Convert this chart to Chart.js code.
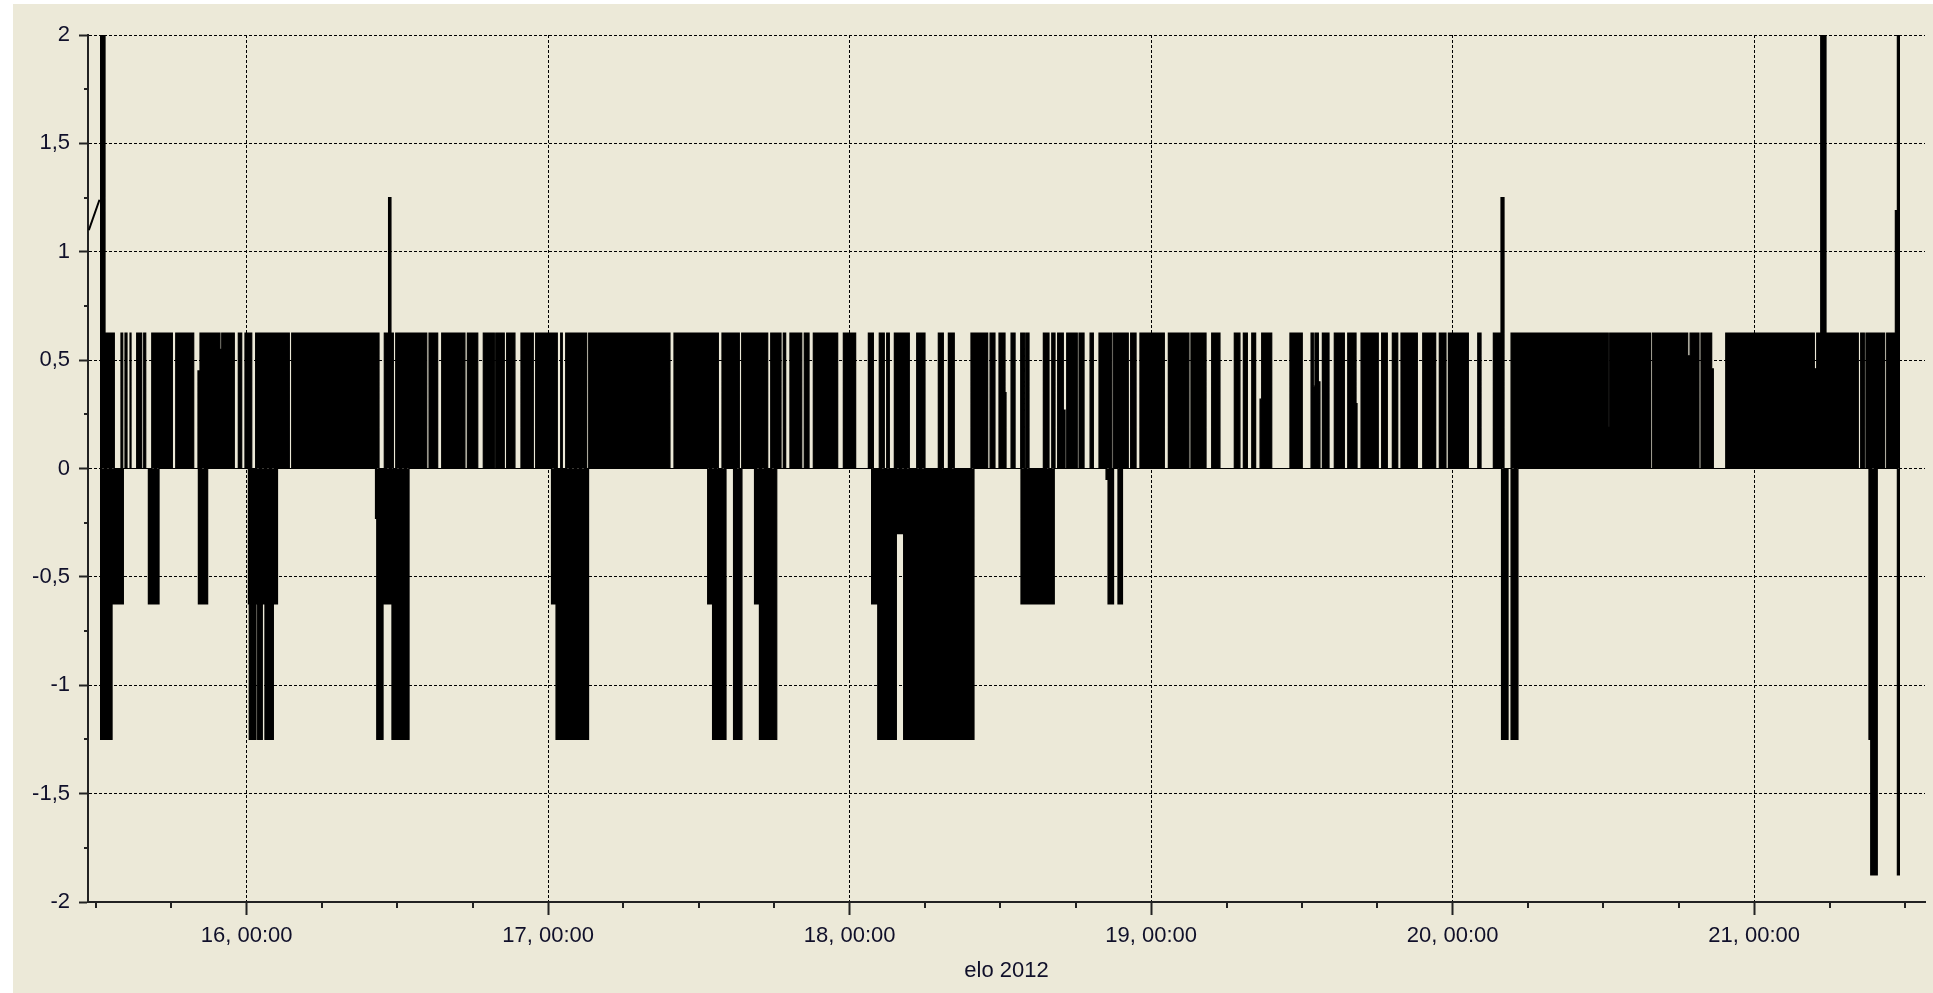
<!DOCTYPE html>
<html>
<head>
<meta charset="utf-8">
<script src="https://cdn.jsdelivr.net/npm/chart.js@4.4.1/dist/chart.umd.min.js"></script>
<style>
  html, body { margin: 0; padding: 0; background: #ffffff; overflow: hidden; }
  canvas { display: block; }
</style>
</head>
<body>
<canvas id="chart" width="1933" height="993"></canvas>
<script>
// Times are hours counted from 15 Aug 2012 00:00.
const axisStart = 11.375;
const axisEnd = 157.6;
const tickHours = [12, 18, 24, 30, 36, 42, 48, 54, 60, 66, 72, 78, 84, 90, 96, 102,
                   108, 114, 120, 126, 132, 138, 144, 150, 156];
const valueTicks = [-2, -1.75, -1.5, -1.25, -1, -0.75, -0.5, -0.25, 0,
                    0.25, 0.5, 0.75, 1, 1.25, 1.5, 1.75, 2];
const axisTitle = 'elo 2012';

// Opening stretch of the record before the first sharp jump.
const leadHours = [11.44, 12.29, 12.33];
const leadValues = [1.10, 1.24, 1.24];

// The signal flips between levels many times per minute; it is kept as the
// band it spans: the highest level reached from each start time onward ...
const upperHours = [
  12.33, 12.73, 13.47, 14.00, 14.14, 14.32, 14.48, 14.72, 14.80, 15.25, 15.65, 15.81, 15.97, 16.45,
  18.09, 18.36, 19.79, 20.13, 20.29, 21.88, 22.02, 23.02, 23.34, 23.61, 23.87, 24.41, 24.72, 27.40,
  27.59, 34.54, 34.96, 35.30, 35.49, 35.68, 35.87, 38.34, 38.52, 39.21, 39.53, 41.38, 41.57, 42.40,
  42.84, 43.72, 43.83, 44.51, 44.70, 45.36, 45.84, 46.82, 47.01, 48.73, 49.00, 49.13, 49.40, 51.07,
  51.23, 57.70, 58.02, 61.55, 61.84, 63.22, 63.41, 65.48, 65.72, 66.54, 66.72, 66.91, 67.25, 68.19,
  68.39, 68.77, 69.11, 71.05, 71.50, 72.48, 73.49, 73.89, 74.36, 74.76, 74.95, 75.16, 75.56, 76.75,
  77.34, 78.00, 79.06, 79.46, 79.86, 80.33, 81.66, 82.99, 83.18, 83.57, 83.89, 84.37, 84.45, 84.85,
  85.17, 85.62, 85.91, 86.02, 86.28, 87.42, 87.87, 88.09, 88.35, 88.56, 89.01, 89.15, 89.28, 90.12,
  90.26, 90.66, 91.14, 91.40, 91.85, 92.86, 92.99, 94.18, 94.37, 94.80, 95.11, 97.05, 97.37, 99.01,
  99.17, 100.37, 100.82, 101.48, 102.62, 103.07, 103.34, 103.66, 104.01, 104.32, 104.67, 104.80, 105.60, 107.05,
  108.03, 108.73, 108.91, 109.04, 109.31, 109.44, 109.63, 110.16, 110.58, 111.38, 111.65, 112.31, 112.39, 112.71,
  114.08, 114.35, 114.80, 115.20, 115.63, 115.89, 117.19, 117.62, 118.65, 118.94, 119.47, 119.66, 121.25, 122.00,
  122.26, 123.24, 123.85, 124.09, 124.65, 132.39, 132.50, 135.74, 135.89, 138.71, 138.90, 139.61, 139.77, 140.62,
  140.75, 141.74, 148.79, 148.98, 149.30, 149.72, 152.29, 152.48, 152.77, 152.90, 154.39, 154.55, 155.24, 155.40
];
const upperValues = [
  2, 0.625, 0, 0.625, 0, 0.625, 0, 0.625, 0, 0.625, 0, 0.625, 0, 0.625,
  0, 0.625, 0, 0.45, 0.625, 0.55, 0.625, 0, 0.625, 0, 0.625, 0, 0.625, 0,
  0.625, 0, 0.625, 1.25, 0.625, 0, 0.625, 0, 0.625, 0, 0.625, 0, 0.625, 0,
  0.625, 0, 0.625, 0, 0.625, 0, 0.625, 0, 0.625, 0, 0.625, 0, 0.625, 0,
  0.625, 0, 0.625, 0, 0.625, 0, 0.625, 0, 0.625, 0, 0.625, 0, 0.625, 0,
  0.625, 0, 0.625, 0, 0.625, 0, 0.625, 0, 0.625, 0, 0.625, 0, 0.625, 0,
  0.625, 0, 0.625, 0, 0.625, 0, 0.625, 0, 0.625, 0, 0.625, 0.35, 0, 0.625,
  0, 0.625, 0, 0.625, 0, 0.625, 0, 0.625, 0, 0.625, 0.27, 0, 0.625, 0,
  0.625, 0, 0.625, 0, 0.625, 0, 0.625, 0, 0.625, 0, 0.625, 0, 0.625, 0,
  0.625, 0, 0.625, 0, 0.625, 0, 0.625, 0, 0.625, 0, 0.32, 0.625, 0, 0.625,
  0, 0.625, 0.38, 0.625, 0.4, 0, 0.625, 0, 0.625, 0, 0.625, 0.3, 0, 0.625,
  0, 0.625, 0, 0.625, 0, 0.625, 0, 0.625, 0, 0.625, 0, 0.625, 0, 0.625,
  0, 0.625, 1.25, 0, 0.625, 0.19, 0.625, 0, 0.625, 0.52, 0.625, 0, 0.625, 0.46,
  0, 0.625, 0.46, 0.625, 2, 0.625, 0, 0.625, 0, 0.625, 0, 0.625, 1.19, 2
];

// ... and the lowest level reached from each start time onward.
const lowerHours = [
  12.33, 13.29, 14.19, 16.18, 17.03, 20.16, 20.90, 24.14, 24.21, 24.75, 24.88, 25.25, 25.46, 26.13,
  26.46, 34.26, 34.36, 34.86, 35.57, 36.93, 48.27, 48.63, 51.22, 60.70, 61.09, 62.16, 62.76, 63.43,
  64.43, 64.82, 66.20, 73.75, 74.24, 75.72, 76.30, 81.90, 85.64, 88.29, 92.41, 92.57, 93.01, 93.36,
  93.72, 123.89, 124.41, 124.65, 125.20, 153.14, 153.28, 153.80, 155.40
];
const lowerValues = [
  -1.25, -0.625, 0, -0.625, 0, -0.625, 0, -0.625, -1.25, -0.625, -1.25, -0.625, -1.25, -0.625,
  0, -0.23, -1.25, -0.625, -1.25, 0, -0.625, -1.25, 0, -0.625, -1.25, 0, -1.25, 0,
  -0.625, -1.25, 0, -0.625, -1.25, -0.3, -1.25, 0, -0.625, 0, -0.05, -0.625, 0, -0.625,
  0, -1.25, 0, -1.25, 0, -1.25, -1.875, 0, -1.875
];
const signalEnd = 155.61;

// Turn "level from this time on" lists into a stepped outline.
function stepOutline(hours, values, end) {
  const pts = [];
  for (let i = 0; i < hours.length; i++) {
    const next = i + 1 < hours.length ? hours[i + 1] : end;
    pts.push({ x: hours[i], y: values[i] });
    pts.push({ x: next, y: values[i] });
  }
  return pts;
}

const ink = '#000000';
const axisInk = '#222222';
const labelInk = '#10102a';
const labelFont = { family: "'Liberation Sans', Arial, sans-serif", size: 22 };

const isDay = v => Math.abs(v % 24) < 1e-9;
const isHalf = v => Math.abs(v % 0.5) < 1e-9;
const dayLabel = v => `${15 + v / 24}, 00:00`;
const valueLabel = v => String(v).replace('.', ',');

// Windows-style beige panel behind the plot.
const backdrop = {
  id: 'backdrop',
  beforeDraw(chart) {
    const { ctx, width, height } = chart;
    ctx.save();
    ctx.fillStyle = '#ffffff';
    ctx.fillRect(0, 0, width, height);
    ctx.fillStyle = '#ECE9D8';
    ctx.fillRect(13, 4, width - 13, height - 4);
    ctx.restore();
  }
};

// Short marks for the unlabeled ticks (every 6 h and every 0.25).
const minorTicks = {
  id: 'minorTicks',
  afterDraw(chart) {
    const { ctx, scales: { x, y } } = chart;
    ctx.save();
    ctx.strokeStyle = axisInk;
    ctx.lineWidth = 2;
    ctx.beginPath();
    x.ticks.forEach(t => {
      if (!isDay(t.value)) {
        const px = Math.round(x.getPixelForValue(t.value));
        ctx.moveTo(px, y.bottom);
        ctx.lineTo(px, y.bottom + 6);
      }
    });
    y.ticks.forEach(t => {
      if (!isHalf(t.value)) {
        const py = Math.round(y.getPixelForValue(t.value));
        ctx.moveTo(x.left - 4, py);
        ctx.lineTo(x.left, py);
      }
    });
    ctx.stroke();
    ctx.restore();
  }
};

new Chart(document.getElementById('chart'), {
  type: 'line',
  data: {
    datasets: [
      {
        data: leadHours.map((h, i) => ({ x: h, y: leadValues[i] })),
        borderColor: ink,
        borderWidth: 2,
        pointRadius: 0,
        fill: false
      },
      {
        data: stepOutline(upperHours, upperValues, signalEnd),
        borderColor: ink,
        backgroundColor: ink,
        borderWidth: 1.2,
        pointRadius: 0,
        fill: 'origin'
      },
      {
        data: stepOutline(lowerHours, lowerValues, signalEnd),
        borderColor: ink,
        backgroundColor: ink,
        borderWidth: 1.2,
        pointRadius: 0,
        fill: 'origin'
      }
    ]
  },
  options: {
    responsive: false,
    animation: false,
    events: [],
    parsing: false,
    layout: { padding: { top: 35, right: 8, left: 0, bottom: 0 } },
    plugins: { legend: { display: false }, tooltip: { enabled: false } },
    scales: {
      x: {
        type: 'linear',
        position: 'bottom',
        min: axisStart,
        max: axisEnd,
        afterBuildTicks: s => { s.ticks = tickHours.map(v => ({ value: v })); },
        afterFit: s => { s.height = 91; },
        ticks: {
          autoSkip: false,
          maxRotation: 0,
          padding: 8,
          color: labelInk,
          font: labelFont,
          callback: v => (isDay(v) ? dayLabel(v) : '')
        },
        grid: {
          color: c => (c.tick && isDay(c.tick.value) ? ink : 'rgba(0,0,0,0)'),
          lineWidth: 1,
          tickLength: 13,
          tickWidth: 2,
          tickColor: c => (c.tick && isDay(c.tick.value) ? axisInk : 'rgba(0,0,0,0)')
        },
        border: { display: true, color: axisInk, width: 2, dash: [3, 2] },
        title: {
          display: true,
          text: axisTitle,
          color: labelInk,
          font: labelFont,
          padding: { top: 0, bottom: 9 }
        }
      },
      y: {
        min: -2,
        max: 2,
        afterBuildTicks: s => { s.ticks = valueTicks.map(v => ({ value: v })); },
        afterFit: s => { s.width = 88; },
        ticks: {
          autoSkip: false,
          padding: 9,
          color: labelInk,
          font: labelFont,
          callback: v => (isHalf(v) ? valueLabel(v) : '')
        },
        grid: {
          color: c => (c.tick && isHalf(c.tick.value) ? ink : 'rgba(0,0,0,0)'),
          lineWidth: 1,
          tickLength: 9,
          tickWidth: 2,
          tickColor: c => (c.tick && isHalf(c.tick.value) ? axisInk : 'rgba(0,0,0,0)')
        },
        border: { display: true, color: axisInk, width: 2, dash: [3, 2] }
      }
    }
  },
  plugins: [backdrop, minorTicks]
});
</script>
</body>
</html>
